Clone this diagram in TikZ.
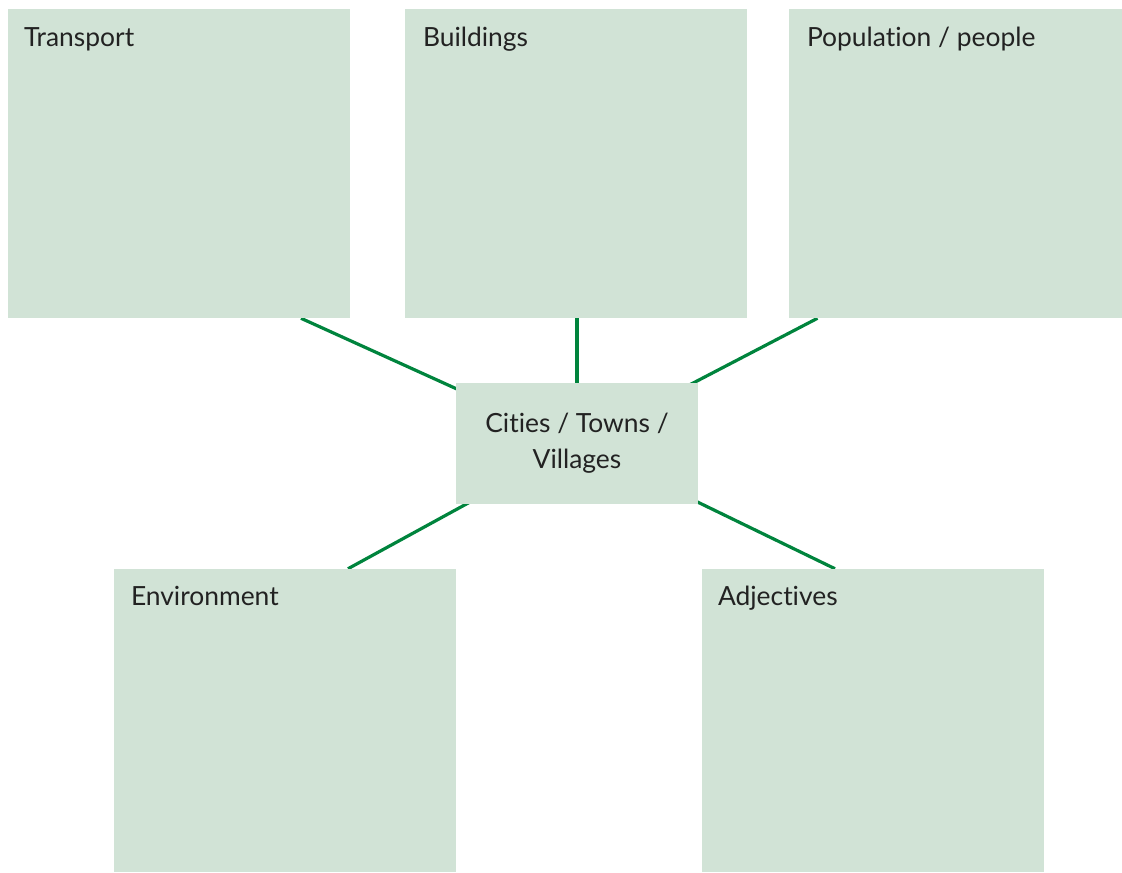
\documentclass[tikz,border=0pt]{standalone}
\usepackage{fontspec}
\setmainfont{Lato}[Ligatures=NoCommon]
\usetikzlibrary{fit,backgrounds}
\definecolor{boxgreen}{HTML}{D1E3D6}
\definecolor{linkgreen}{HTML}{00843D}
\definecolor{inkgray}{HTML}{222222}
\begin{document}
\begin{tikzpicture}[x=0.75pt, y=-0.75pt,
  box/.style={fill=boxgreen, inner sep=0pt},
  title/.style={anchor=base west, text=inkgray, inner sep=0pt, font=\fontsize{19.8}{27}\selectfont},
  link/.style={linkgreen, line width=2.4pt}]
\useasboundingbox (0,0) rectangle (1122,872);
\node[box, fit={(8,9) (350,318)}] (trans) {};
\node[box, fit={(405,9) (747,318)}] (build) {};
\node[box, fit={(789,9) (1122,318)}] (pop) {};
\node[box, fit={(456,383) (698,504)}] (cen) {};
\node[box, fit={(114,569) (456,872)}] (env) {};
\node[box, fit={(702,569) (1044,872)}] (adj) {};
\node[title] (transT) at ([shift={(16,38)}]trans.north west) {Transport};
\node[title] (buildT) at ([shift={(18,38)}]build.north west) {Buildings};
\node[title] (popT) at ([shift={(18,38)}]pop.north west) {Population / people};
\node[title] (envT) at ([shift={(17,37)}]env.north west) {Environment};
\node[title] (adjT) at ([shift={(16,37)}]adj.north west) {Adjectives};
\node[title, anchor=center, align=center] (cenT) at (cen.center) {Cities / Towns /\\Villages};
\begin{scope}[on background layer]
\draw[link] (cen.center) -- ([shift={(122,0)}]trans.south);
\draw[link] (cen.center) -- (cen.center |- build.south);
\draw[link] (cen.center) -- ([shift={(-138,0)}]pop.south);
\draw[link] (cen.center) -- ([shift={(63,0)}]env.north);
\draw[link] (cen.center) -- ([shift={(-38,0)}]adj.north);
\end{scope}
\end{tikzpicture}
\end{document}
